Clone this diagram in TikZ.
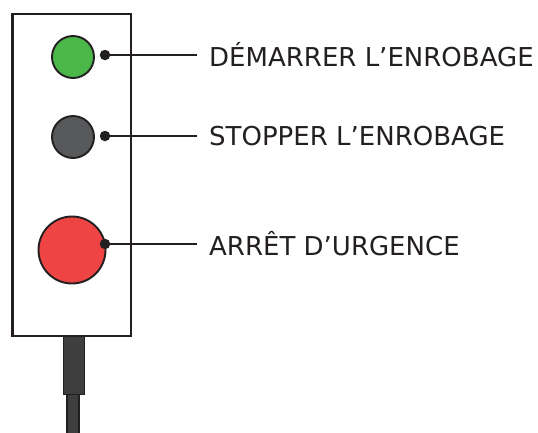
\documentclass[tikz,border=0pt]{standalone}
\usepackage{fontspec}
\setmainfont{DejaVu Sans}
\definecolor{btngreen}{HTML}{4BB749}
\definecolor{btngray}{HTML}{58595B}
\definecolor{btnred}{HTML}{EF4444}
\definecolor{cablegray}{HTML}{3E3E3E}
\definecolor{ink}{HTML}{231F20}
\begin{document}
\begin{tikzpicture}[x=1pt,y=-1pt,
  btn/.style={circle,draw=ink,line width=1.9pt,inner sep=0pt},
  pin/.style={circle,fill=ink,inner sep=0pt,minimum size=10.5pt},
  lead/.style={draw=ink,line width=2pt},
  tag/.style={anchor=west,inner sep=0pt,font=\fontsize{26}{30}\selectfont,text=ink}]
\useasboundingbox (0,0) rectangle (538,432);
% cable
\draw[ink,line width=1.5pt,fill=cablegray] (67,394) rectangle (79,440);
\draw[ink,line width=1.8pt,fill=cablegray] (63.5,336) rectangle (84.5,394.5);
% housing
\draw[ink,line width=2.2pt,fill=white] (12.5,14) rectangle (131,336);
% buttons
\node[btn,fill=btngreen,minimum size=42pt] (start) at (73,57) {};
\node[btn,fill=btngray,minimum size=42pt] (stop) at (73,137) {};
\node[btn,fill=btnred,minimum size=67pt] (estop) at (72,250) {};
% leader dots
\node[pin] (p1) at (105,55) {};
\node[pin] (p2) at (105,136) {};
\node[pin] (p3) at (105,244) {};
% labels
\node[tag] (t1) at (209,55) {DÉMARRER L’ENROBAGE};
\node[tag] (t2) at (209,136) {STOPPER L’ENROBAGE};
\node[tag] (t3) at (209,244) {ARRÊT D’URGENCE};
\coordinate (e1) at (197,55);
\coordinate (e2) at (197,136);
\coordinate (e3) at (197,244);
\draw[lead] (p1.center) -- (e1);
\draw[lead] (p2.center) -- (e2);
\draw[lead] (p3.center) -- (e3);
\end{tikzpicture}
\end{document}
